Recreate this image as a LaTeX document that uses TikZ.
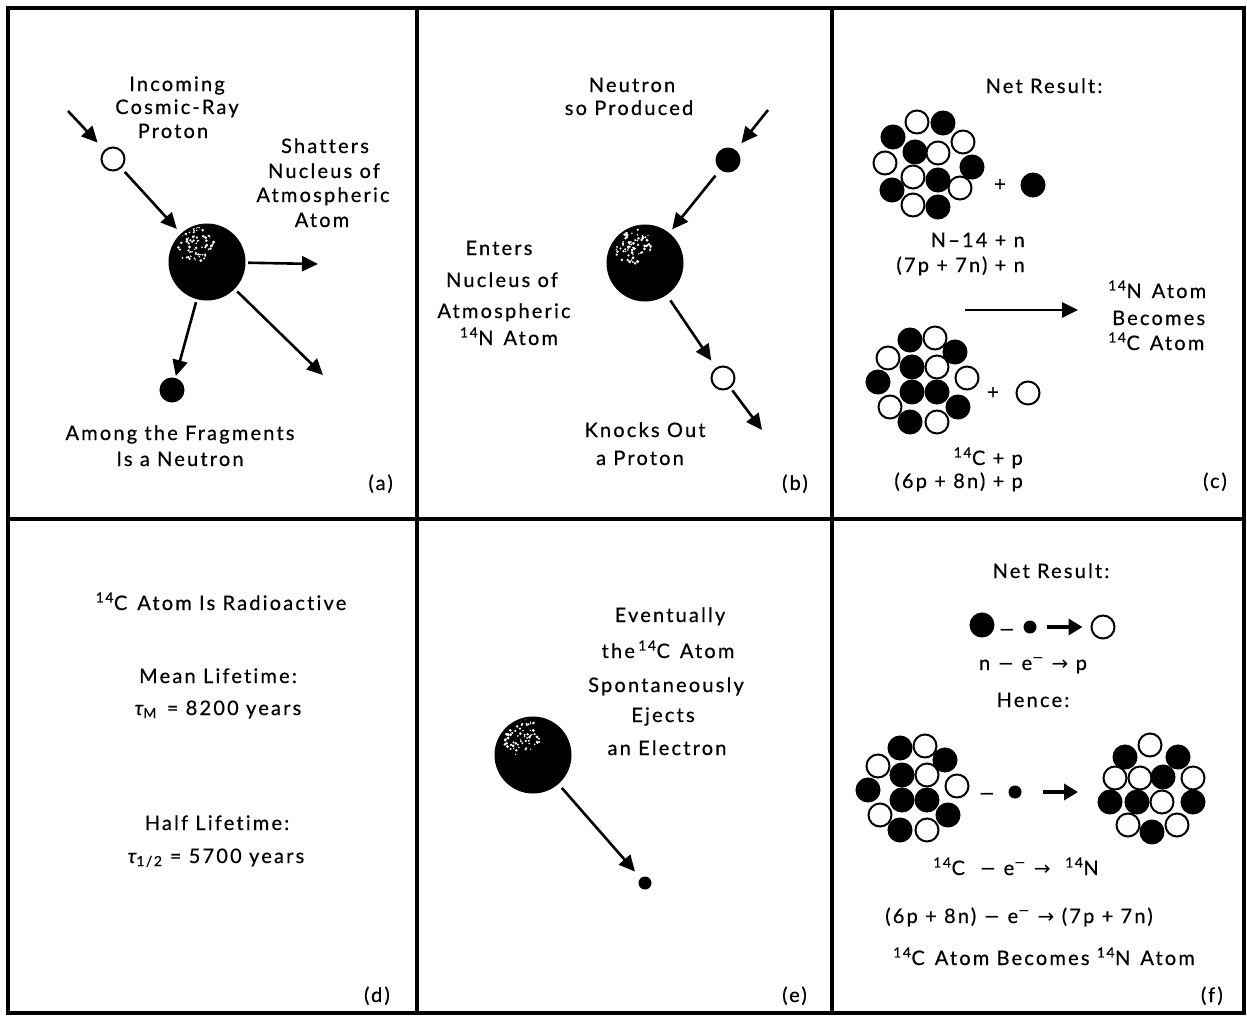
\documentclass[tikz,border=0pt]{standalone}
\usepackage{fontspec}
\setmainfont{Lato}[LetterSpace=11,FakeBold=0.5,Ligatures=NoCommon]
\newfontfamily\symf{DejaVu Sans}
\usetikzlibrary{arrows.meta}
\newcommand\iso[1]{\textsuperscript{#1}}
\newcommand\mns{{\symf −}}
\newcommand\rarr{{\symf →}}
\newcommand\fsz{\fontsize{20}{24}\selectfont}
\newcommand\gap{\hspace{0.5em}}
% white speckles on the upper-left part of a nucleus
\newcommand\speckles[2]{%
  \pgfmathsetseed{#2}%
  \begin{scope}[shift={(#1)}]
    \clip (0,0) circle[radius=36];
    \foreach \k in {1,...,75}{%
      \pgfmathsetmacro\ang{360*rnd}%
      \pgfmathsetmacro\rad{19*sqrt(rnd)}%
      \pgfmathsetmacro\dsz{0.7+0.9*rnd}%
      \fill[white] ({-12+\rad*cos(\ang)},{-18+\rad*sin(\ang)}) circle[radius=\dsz];
    }
  \end{scope}}
\begin{document}
\begin{tikzpicture}[x=1pt,y=-1pt,
  frame/.style={line width=3.5pt},
  txt/.style={font=\fsz, inner sep=0, anchor=base},
  tag/.style={font=\fsz, inner sep=0, anchor=base east},
  part/.style={circle, draw=black, line width=2pt, minimum size=23pt, inner sep=0, fill=white},
  neutron/.style={part, fill=black},
  electron/.style={circle, fill=black, minimum size=13pt, inner sep=0},
  nucleus/.style={circle, fill=black, minimum size=77pt, inner sep=0},
  arr/.style={line width=2.6pt, -{Triangle[length=16pt,width=15pt]}},
  heavy/.style={line width=4pt, -{Triangle[length=14pt,width=16pt]}},
  sign/.style={font=\fsz, inner sep=0}]
\useasboundingbox (0,0) rectangle (1247,1018);
\fill[white] (0,0) rectangle (1247,1018);

% panel grid
\draw[frame] (8,8) rectangle (1244,1013);
\draw[frame] (417,8) -- (417,1013);
\draw[frame] (832,8) -- (832,1013);
\draw[frame] (8,519) -- (1244,519);

% ---------- (a) cosmic-ray proton shatters a nucleus
\coordinate (a-in) at (68,111);
\coordinate (a-r) at (318,264);
\coordinate (a-lr) at (323,375);
\node[part] (pa) at (113,159) {};
\node[nucleus] (na) at (207,262) {};
\speckles{na}{11}
\node[neutron] (nna) at (172,390) {};
\draw[arr, shorten >=10pt] (a-in) -- (pa);
\draw[arr, shorten <=5pt, shorten >=6pt] (pa) -- (na);
\draw[arr, shorten <=2.5pt] (na) -- (a-r);
\draw[arr, shorten <=3.5pt] (na) -- (a-lr);
\draw[arr, shorten <=3pt, shorten >=2pt] (na) -- (nna);
\node[txt] (ta1) at (177,91) {Incoming};
\node[txt] (ta2) at (177,114) {Cosmic-Ray};
\node[txt] (ta3) at (173,138) {Proton};
\node[txt] (ta4) at (325,153) {Shatters};
\node[txt] (ta5) at (324,178) {Nucleus of};
\node[txt] (ta6) at (323,202) {Atmospheric};
\node[txt] (ta7) at (322,227) {Atom};
\node[txt] (ta8) at (180,440) {Among the Fragments};
\node[txt] (ta9) at (180,466) {Is a Neutron};
\node[tag] (la) at (393,490) {(a)};

% ---------- (b) neutron enters a nitrogen nucleus
\coordinate (b-in) at (768,110);
\coordinate (b-out) at (762,430);
\node[neutron] (nb) at (728,160) {};
\node[nucleus] (Nb) at (645,263) {};
\speckles{Nb}{23}
\node[part] (pb) at (723,378) {};
\draw[arr, shorten >=9pt] (b-in) -- (nb);
\draw[arr, shorten <=7.5pt, shorten >=4.5pt] (nb) -- (Nb);
\draw[arr, shorten <=6.5pt, shorten >=8.5pt] (Nb) -- (pb);
\draw[arr, shorten <=3pt] (pb) -- (b-out);
\node[txt] (tb1) at (632,92) {Neutron};
\node[txt] (tb2) at (629,115) {so Produced};
\node[txt] (tb3) at (499,255) {Enters};
\node[txt] (tb4) at (502,287) {Nucleus of};
\node[txt] (tb5) at (504,318) {Atmospheric};
\node[txt] (tb6) at (509,345) {\iso{14}N\gap Atom};
\node[txt] (tb7) at (645,437) {Knocks Out};
\node[txt] (tb8) at (640,465) {a Proton};
\node[tag] (lb) at (808,490) {(b)};

% ---------- (c) net result: N-14 + n becomes C-14 + p
\node[txt] (tc1) at (1044,93) {Net Result:};
\foreach \px/\py/\fc [count=\i] in {917/122/white, 943/123/black, 893/137/black,
  963/142/white, 915/152/black, 938/153/white, 885/163/white, 972/167/black,
  913/177/white, 938/180/black, 892/190/black, 960/188/white, 913/205/white,
  938/207/black}
  \node[part, fill=\fc] (cn\i) at (\px,\py) {};
\node[sign] (cplus1) at (1000,185) {+};
\node[neutron] (cn) at (1033,185) {};
\node[tag] (tc2) at (1025,247) {N–14 + n};
\node[tag] (tc3) at (1025,272) {(7p + 7n) + n};
\coordinate (c-a1) at (965,310);
\coordinate (c-a2) at (1078,310);
\draw[arr] (c-a1) -- (c-a2);
\node[txt, anchor=base west] (tc4) at (1108,298) {\iso{14}N\gap Atom};
\node[txt, anchor=base west] (tc5) at (1112,325) {Becomes};
\node[txt, anchor=base west] (tc6) at (1108,350) {\iso{14}C\gap Atom};
\foreach \px/\py/\fc [count=\i] in {910/340/black, 935/338/white, 955/352/black,
  888/358/white, 912/367/black, 937/367/white, 967/378/white, 878/382/black,
  912/392/black, 937/392/black, 890/407/white, 958/407/black, 910/422/black,
  937/422/white}
  \node[part, fill=\fc] (cc\i) at (\px,\py) {};
\node[sign] (cplus2) at (993,393) {+};
\node[part] (cp) at (1028,393) {};
\node[tag] (tc7) at (1023,465) {\iso{14}C + p};
\node[tag] (tc8) at (1023,488) {(6p + 8n) + p};
\node[tag] (lc) at (1227,488) {(c)};

% ---------- (d) lifetimes
\node[txt] (td1) at (221,610) {\iso{14}C\gap Atom Is Radioactive};
\node[txt] (td2) at (218,683) {Mean Lifetime:};
\node[txt] (td3) at (218,715) {{\itshape τ}\textsubscript{M}\gap = 8200 years};
\node[txt] (td4) at (217,830) {Half Lifetime:};
\node[txt] (td5) at (216,863) {{\itshape τ}\textsubscript{1/2} = 5700 years};
\node[tag] (ld) at (390,1002) {(d)};

% ---------- (e) beta decay of C-14
\node[nucleus] (Ne) at (533,755) {};
\speckles{Ne}{37}
\node[electron] (ee) at (645,883) {};
\draw[arr, shorten <=5pt, shorten >=8.5pt] (Ne) -- (ee);
\node[txt] (te1) at (670,622) {Eventually};
\node[txt] (te2) at (668,658) {the\,\iso{14}C\gap Atom};
\node[txt] (te3) at (666,692) {Spontaneously};
\node[txt] (te4) at (663,722) {Ejects};
\node[txt] (te5) at (667,755) {an Electron};
\node[tag] (le) at (807,1002) {(e)};

% ---------- (f) net result: n - e -> p, hence C-14 -> N-14
\node[txt] (tf1) at (1051,578) {Net Result:};
\node[neutron] (fn) at (982,625) {};
\node[sign] (fm1) at (1007,633) {\mns};
\node[electron] (fe) at (1030,627) {};
\node[part] (fp) at (1103,627) {};
\draw[heavy, shorten <=10.5pt, shorten >=8pt] (fe) -- (fp);
\node[txt] (tf2) at (1033,670) {n \mns\ e\textsuperscript{\mns} \rarr\ p};
\node[txt] (tf3) at (1033,707) {Hence:};
\foreach \px/\py/\fc [count=\i] in {900/748/black, 925/746/white, 945/760/black,
  878/766/white, 902/775/black, 927/775/white, 957/786/white, 868/790/black,
  902/800/black, 927/800/black, 880/815/white, 948/815/black, 900/830/black,
  927/830/white}
  \node[part, fill=\fc] (fc\i) at (\px,\py) {};
\node[sign] (fm2) at (987,797) {\mns};
\node[electron] (fe2) at (1015,792) {};
\coordinate (f-a1) at (1043,792);
\coordinate (f-a2) at (1078,792);
\draw[heavy] (f-a1) -- (f-a2);
\foreach \px/\py/\fc [count=\i] in {1150/745/white, 1125/757/black, 1178/757/black,
  1115/778/white, 1140/778/white, 1163/777/black, 1193/778/white, 1110/802/black,
  1137/802/black, 1162/802/white, 1193/802/black, 1128/825/white, 1177/825/white,
  1152/832/black}
  \node[part, fill=\fc] (fN\i) at (\px,\py) {};
\node[txt] (tf4) at (1016,875) {\iso{14}C \ \mns\ e\textsuperscript{\mns} \rarr\ \ \iso{14}N};
\node[txt] (tf5) at (1019,923) {(6p + 8n) \mns\ e\textsuperscript{\mns} \rarr\ (7p + 7n)};
\node[txt] (tf6) at (1044,965) {\iso{14}C\gap Atom Becomes \iso{14}N\gap Atom};
\node[tag] (lf) at (1223,1002) {(f)};
\end{tikzpicture}
\end{document}
